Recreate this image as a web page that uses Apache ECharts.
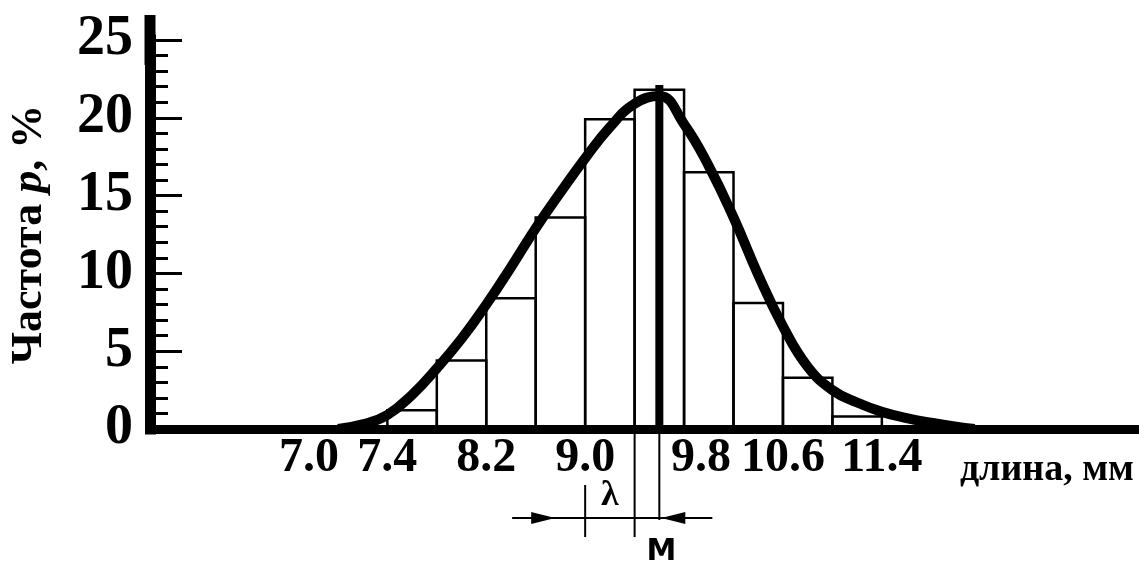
<!DOCTYPE html>
<html>
<head>
<meta charset="utf-8">
<script src="https://cdn.jsdelivr.net/npm/echarts@6/dist/echarts.min.js"></script>
<style>
  html, body { margin: 0; padding: 0; background: #fff; }
  #chart { width: 1139px; height: 562px; }
</style>
</head>
<body>
<div id="chart"></div>
<script>
// гистограмма: начало интервала, мм и частота, %
var binStarts = [7.4, 7.8, 8.2, 8.6, 9.0, 9.4, 9.8, 10.2, 10.6, 11.0]
var binWidth = 0.4
var binFreq = [1.2, 4.4, 8.4, 13.6, 19.9, 21.8, 16.5, 8.1, 3.3, 0.8]

// кривая распределения
var curveX = [7.0, 7.2, 7.4, 7.6, 7.8, 8.0, 8.2, 8.4, 8.6, 8.8, 9.0, 9.2, 9.4, 9.6, 9.8, 10.0, 10.2, 10.4, 10.6, 10.8, 11.0, 11.2, 11.4, 11.6, 11.8, 12.0, 12.15]
var curveY = [0.0, 0.3, 0.9, 2.2, 3.9, 5.8, 8.0, 10.4, 12.9, 15.2, 17.4, 19.4, 20.9, 21.4, 19.6, 16.9, 13.6, 9.9, 6.6, 4.0, 2.5, 1.7, 1.1, 0.7, 0.4, 0.15, 0.0]

// подписи оси X
var xTicks = [7.0, 7.4, 8.2, 9.0, 9.8, 10.6, 11.4]

// среднее M и интервал λ
var meanLength = 9.6
var meanTop = 22.1
var lambdaFrom = 9.0
var lambdaTo = 9.4

var serif = 'Liberation Serif'
var chart = echarts.init(document.getElementById('chart'))

// сдвиг отдельных подписей, как на рисунке
var labelShift = { '7.0': 'l', '9.8': 'r' }

chart.setOption({
  backgroundColor: '#fff',
  animation: false,
  grid: { left: 150, right: 0, top: 40, bottom: 133, containLabel: false, outerBoundsMode: 'none' },
  xAxis: {
    type: 'value',
    min: 5.48,
    max: 13.48,
    splitLine: { show: false },
    axisLine: { lineStyle: { color: '#000', width: 9 } },
    axisTick: { show: false },
    axisLabel: {
      customValues: xTicks,
      margin: 6,
      color: '#000',
      fontFamily: serif,
      fontWeight: 'bold',
      fontSize: 48,
      formatter: function (v) {
        var s = v.toFixed(1)
        return labelShift[s] ? '{' + labelShift[s] + '|' + s + '}' : s
      },
      rich: {
        l: { padding: [0, 58, 0, 0], fontFamily: serif, fontWeight: 'bold', fontSize: 48, color: '#000' },
        r: { padding: [0, 0, 0, 34], fontFamily: serif, fontWeight: 'bold', fontSize: 48, color: '#000' }
      }
    },
    name: 'длина, мм',
    nameLocation: 'end',
    nameGap: -5,
    nameTextStyle: {
      align: 'right',
      verticalAlign: 'top',
      padding: [22, 0, 0, 0],
      color: '#000',
      fontFamily: serif,
      fontWeight: 'bold',
      fontSize: 38
    }
  },
  yAxis: {
    type: 'value',
    min: 0,
    max: 25,
    interval: 5,
    splitLine: { show: false },
    axisLine: {
      lineStyle: { color: '#000', width: 11, cap: 'square' },
      symbol: ['none', 'rect'],
      symbolSize: [11, 50]
    },
    axisTick: { inside: true, length: 32, lineStyle: { color: '#000', width: 3 } },
    minorTick: { show: true, splitNumber: 5, length: 18, lineStyle: { color: '#000', width: 3 } },
    axisLabel: {
      margin: 17,
      color: '#000',
      fontFamily: serif,
      fontWeight: 'bold',
      fontSize: 56
    },
    name: '{a|Частота }{b|p}{a|, %}',
    nameLocation: 'middle',
    nameRotate: 90,
    nameGap: 98,
    nameTextStyle: {
      rich: {
        a: { fontFamily: serif, fontWeight: 'bold', fontSize: 44, color: '#000' },
        b: { fontFamily: serif, fontWeight: 'bold', fontStyle: 'italic', fontSize: 44, color: '#000' }
      }
    }
  },
  series: [
    {
      type: 'custom',
      z: 2,
      encode: { x: [0, 1], y: 2 },
      data: binStarts.map(function (s, i) { return [s, s + binWidth, binFreq[i]] }),
      renderItem: function (params, api) {
        var p0 = api.coord([api.value(0), api.value(2)])
        var p1 = api.coord([api.value(1), 0])
        return {
          type: 'rect',
          shape: { x: p0[0], y: p0[1], width: p1[0] - p0[0], height: p1[1] - p0[1] },
          style: { fill: 'none', stroke: '#000', lineWidth: 2.5 }
        }
      }
    },
    {
      type: 'line',
      z: 3,
      smooth: 0.45,
      symbol: 'none',
      lineStyle: { color: '#000', width: 10 },
      data: curveX.map(function (x, i) { return [x, curveY[i]] })
    },
    {
      type: 'custom',
      z: 4,
      encode: { x: 0, y: 1 },
      data: [[meanLength, meanTop, lambdaFrom, lambdaTo]],
      renderItem: function (params, api) {
        var top = api.coord([api.value(0), api.value(1)])
        var base = api.coord([api.value(0), 0])
        var mx = base[0], y0 = base[1]
        var lx0 = api.coord([api.value(2), 0])[0]
        var lx1 = api.coord([api.value(3), 0])[0]
        var dimY = y0 + 89
        var thin = { stroke: '#000', lineWidth: 2 }
        return {
          type: 'group',
          children: [
            { type: 'line', shape: { x1: mx, y1: top[1], x2: mx, y2: y0 }, style: { stroke: '#000', lineWidth: 8 } },
            { type: 'line', shape: { x1: mx, y1: y0, x2: mx, y2: y0 + 91 }, style: thin },
            { type: 'line', shape: { x1: lx1, y1: y0, x2: lx1, y2: y0 + 108 }, style: thin },
            { type: 'line', shape: { x1: lx0, y1: y0 + 56, x2: lx0, y2: y0 + 108 }, style: thin },
            { type: 'line', shape: { x1: lx0 - 73, y1: dimY, x2: mx + 53, y2: dimY }, style: thin },
            { type: 'polygon', shape: { points: [[lx0 - 54, dimY - 6], [lx0 - 30, dimY], [lx0 - 54, dimY + 6]] }, style: { fill: '#000' } },
            { type: 'polygon', shape: { points: [[mx + 26, dimY - 6], [mx + 2, dimY], [mx + 26, dimY + 6]] }, style: { fill: '#000' } },
            {
              type: 'text',
              style: {
                text: 'λ', x: (lx0 + lx1) / 2, y: y0 + 67, align: 'center', verticalAlign: 'middle',
                fontFamily: serif, fontWeight: 'bold', fontSize: 36, fill: '#000'
              }
            },
            {
              type: 'text',
              style: {
                text: 'М', x: mx + 2, y: y0 + 108, align: 'center', verticalAlign: 'top',
                fontFamily: 'DejaVu Sans', fontWeight: 'bold', fontSize: 30, fill: '#000'
              }
            }
          ]
        }
      }
    }
  ]
})
</script>
</body>
</html>
